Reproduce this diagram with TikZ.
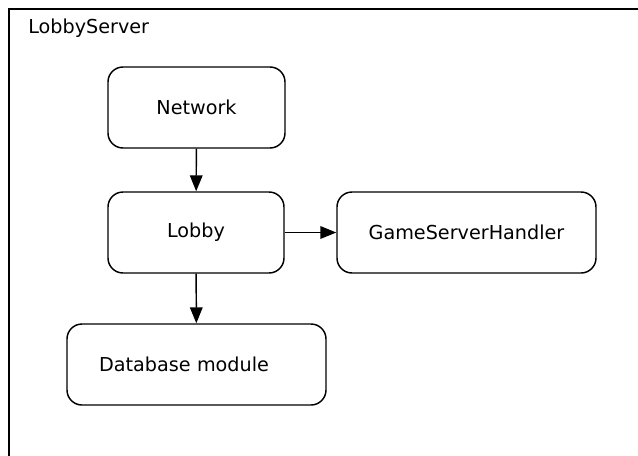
\documentclass[tikz,border=0pt]{standalone}
\usepackage{fontspec}
\setmainfont{DejaVu Sans}
\usetikzlibrary{arrows.meta}
\begin{document}
\begin{tikzpicture}[x=0.75pt,y=-0.75pt,
  font=\fontsize{14.4}{17}\selectfont,
  module/.style={draw, line width=1.1pt, rounded corners=11.25pt,
    minimum height=60.75pt, inner sep=0pt, align=center},
  link/.style={line width=1.1pt, -{Triangle[length=12pt,width=9.5pt]}},
  frameline/.style={line width=1.1pt}]
  \useasboundingbox (0,0) rectangle (638,455);
  % enclosing package frame (open on the right and bottom)
  \coordinate (frameTR) at (640,9);
  \coordinate (frameTL) at (9,9);
  \coordinate (frameBL) at (9,457);
  \draw[frameline] (frameTR) -- (frameTL) -- (frameBL);
  \node[anchor=base west, inner sep=0pt] (title) at (28,33) {LobbyServer};
  % modules
  \node[module, minimum width=132.75pt] (network) at (196.5,107.5) {Network};
  \node[module, minimum width=132pt] (lobby) at (196,232.5) {Lobby};
  \node[module, minimum width=194.25pt] (gsh) at (466.5,232.5) {GameServerHandler};
  \node[module, text width=146.25pt, inner xsep=24pt, align=left] (db) at (196.5,364.5) {Database module};
  % dependencies
  \draw[link] (network) -- (lobby);
  \draw[link] (lobby) -- (db);
  \draw[link] (lobby) -- (gsh);
\end{tikzpicture}
\end{document}
